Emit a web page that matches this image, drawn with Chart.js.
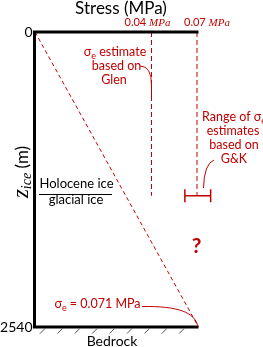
<!DOCTYPE html>
<html><head><meta charset="utf-8">
<script src="https://cdn.jsdelivr.net/npm/chart.js@4"></script>
<style>html,body{margin:0;padding:0;background:#fff;overflow:hidden}#wrap{width:263px;height:347px;position:relative}</style>
</head><body><div id="wrap"><canvas id="c" width="263" height="347" style="width:263px;height:347px"></canvas></div>
<script>
// ---- data ----
const depthTicks = [0, 2540];
const stressTicks = [0.04, 0.07];
const stressTickLabels = ['0.04', '0.07'];
const profileStress = [0, 0.071];
const profileDepth = [0, 2540];
const glenStress = [0.04, 0.04];
const glenDepth = [0, 1410];
const gkStress = [0.07, 0.07];
const gkDepth = [0, 1410];
const gkRange = [0.062, 0.079];
const gkRangeDepth = [1410, 1410];
const iceBoundaryDepth = 1395;

// ---- schematic (non-linear) stress axis ----
const KNOT_V = [0, 0.04, 0.07];
const KNOT_F = [0, 0.6545, 0.9101];
function fracOf(v){
  const i = v <= KNOT_V[1] ? 0 : 1;
  return KNOT_F[i] + (v - KNOT_V[i]) * (KNOT_F[i+1] - KNOT_F[i]) / (KNOT_V[i+1] - KNOT_V[i]);
}
function valOf(f){
  const i = f <= KNOT_F[1] ? 0 : 1;
  return KNOT_V[i] + (f - KNOT_F[i]) * (KNOT_V[i+1] - KNOT_V[i]) / (KNOT_F[i+1] - KNOT_F[i]);
}
class PiecewiseScale extends Chart.LinearScale {
  getPixelForValue(value){ return this.left + fracOf(value) * (this.right - this.left); }
  getValueForPixel(pixel){ return valOf((pixel - this.left) / (this.right - this.left)); }
}
PiecewiseScale.id = 'piecewise';
PiecewiseScale.defaults = Chart.LinearScale.defaults;
Chart.register(PiecewiseScale);

const RED = '#c00000';
const SANS = 'Lato, "Open Sans", sans-serif';
const SERIF = '"Liberation Serif", "DejaVu Serif", serif';

function pts(xs, ys){ return xs.map((x, i) => ({x, y: ys[i]})); }

function drawRuns(ctx, parts, x, y, align){
  let total = 0;
  parts.forEach(p => { ctx.font = p[1]; total += ctx.measureText(p[0]).width; });
  let cx = align === 'center' ? x - total / 2 : (align === 'right' ? x - total : x);
  ctx.textAlign = 'left';
  parts.forEach(p => {
    ctx.font = p[1];
    ctx.fillText(p[0], cx, y + (p[2] || 0));
    cx += ctx.measureText(p[0]).width;
  });
}

const annot = {
  id: 'annot',
  afterDatasetsDraw(chart){
    const ctx = chart.ctx, xs = chart.scales.x, ys = chart.scales.y, a = chart.chartArea;
    const top = ys.getPixelForValue(0), bot = ys.getPixelForValue(2540);
    const xEnd = xs.getPixelForValue(0.07) + 1.5;
    ctx.save();
    // frame
    ctx.strokeStyle = '#000'; ctx.lineWidth = 3; ctx.lineCap = 'butt';
    ctx.beginPath();
    ctx.moveTo(a.left - 0.5, top - 1.5); ctx.lineTo(a.left - 0.5, bot + 1.5);
    ctx.moveTo(a.left - 2, top); ctx.lineTo(xEnd, top);
    ctx.moveTo(a.left - 2, bot); ctx.lineTo(xEnd, bot);
    ctx.stroke();
    // bedrock hatch
    ctx.strokeStyle = '#505050'; ctx.lineWidth = 1;
    ctx.beginPath();
    for (let i = 0; i < 9; i++) {
      const hx = a.left + 5 + i * 17.4;
      ctx.moveTo(hx, bot + 6.5); ctx.lineTo(hx + 5, bot + 1.5);
    }
    ctx.stroke();

    ctx.textBaseline = 'alphabetic';
    // title
    ctx.fillStyle = '#000';
    ctx.font = '17px ' + SANS; ctx.textAlign = 'center';
    ctx.fillText('Stress (MPa)', 121, 14);
    // depth tick labels
    ctx.font = '14px ' + SANS; ctx.textAlign = 'right'; ctx.textBaseline = 'middle';
    depthTicks.forEach(d => ctx.fillText(String(d), 32.5, ys.getPixelForValue(d)));
    ctx.textBaseline = 'alphabetic';
    // y title (rotated)
    ctx.save();
    ctx.translate(27.5, 172); ctx.rotate(-Math.PI / 2);
    drawRuns(ctx, [['z', 'italic 23px ' + SERIF, 0], ['ice', 'italic 14px ' + SERIF, 3], [' (m)', '17px ' + SANS, 0]], 0, 0, 'center');
    ctx.restore();
    // Holocene / glacial
    const by = ys.getPixelForValue(iceBoundaryDepth);
    ctx.font = '13px ' + SANS;
    ctx.textAlign = 'center';
    ctx.fillText('Holocene ice', 76.5, by - 6);
    ctx.fillText('glacial ice', 76, by + 10);
    ctx.strokeStyle = '#000'; ctx.lineWidth = 1;
    ctx.beginPath(); ctx.moveTo(39, by + 0.5); ctx.lineTo(112, by + 0.5); ctx.stroke();
    // Bedrock
    ctx.font = '14px ' + SANS;
    ctx.fillText('Bedrock', 112, 346);

    // red annotations
    ctx.fillStyle = RED; ctx.strokeStyle = RED;
    const offs = [-27, -13];
    stressTicks.forEach((s, i) => {
      drawRuns(ctx, [[stressTickLabels[i] + ' ', '11px ' + SANS, 0], ['MPa', 'italic 11px ' + SERIF, 0]], xs.getPixelForValue(s) + offs[i], 26, 'left');
    });
    const f12 = '12.5px ' + SANS, sub = '9px ' + SANS;
    drawRuns(ctx, [['σ', f12, 0], ['e', sub, 3], [' estimate', f12, 0]], 115, 56, 'center');
    ctx.font = f12; ctx.textAlign = 'center';
    ctx.fillText('based on', 116.5, 70);
    ctx.fillText('Glen', 114, 84);
    drawRuns(ctx, [['Range of σ', f12, 0], ['e', sub, 3]], 234, 121, 'center');
    ctx.font = f12; ctx.textAlign = 'center';
    ctx.fillText('estimates', 233, 135);
    ctx.fillText('based on', 234, 149);
    ctx.fillText('G&K', 234, 163);
    drawRuns(ctx, [['σ', f12, 0], ['e', sub, 3], [' = 0.071 MPa', f12, 0]], 97.5, 308, 'center');
    ctx.font = 'bold 21px ' + SANS; ctx.textAlign = 'center';
    ctx.fillText('?', 196.5, 253);
    // callout curves
    ctx.lineWidth = 1;
    const gx = xs.getPixelForValue(glenStress[0]);
    ctx.beginPath(); ctx.moveTo(140, 66); ctx.quadraticCurveTo(gx, 66, gx, 85); ctx.lineTo(gx, 100); ctx.stroke();
    ctx.beginPath(); ctx.moveTo(214, 160); ctx.quadraticCurveTo(204, 164, 203.5, 188); ctx.stroke();
    ctx.beginPath(); ctx.moveTo(142, 306.5); ctx.bezierCurveTo(178, 306, 195, 312, 198, bot); ctx.stroke();
    ctx.restore();
  }
};

new Chart(document.getElementById('c'), {
  type: 'scatter',
  data: {
    datasets: [
      { data: pts(profileStress, profileDepth), showLine: true, borderColor: RED, borderWidth: 1, borderDash: [4, 3], pointRadius: 0, clip: false },
      { data: pts(glenStress, glenDepth), showLine: true, borderColor: RED, borderWidth: 1, borderDash: [5, 3], pointRadius: 0, clip: false },
      { data: pts(gkStress, gkDepth), showLine: true, borderColor: RED, borderWidth: 1, borderDash: [5, 3], pointRadius: 0, clip: false },
      { data: pts(gkRange, gkRangeDepth), showLine: true, borderColor: RED, borderWidth: 1.5, pointStyle: 'line', pointRotation: 90, pointRadius: 6.5, pointBorderWidth: 1.5, pointBorderColor: RED, clip: false }
    ]
  },
  options: {
    responsive: false, animation: false, devicePixelRatio: 1,
    layout: { padding: { left: 35, top: 32, right: 50, bottom: 20 } },
    plugins: { legend: { display: false }, tooltip: { enabled: false }, title: { display: false } },
    scales: {
      x: { type: 'piecewise', display: false, min: 0, max: 0.08 },
      y: { type: 'linear', display: false, reverse: true, min: 0, max: 2540 }
    },
    events: []
  },
  plugins: [annot]
});
</script>
</body></html>
